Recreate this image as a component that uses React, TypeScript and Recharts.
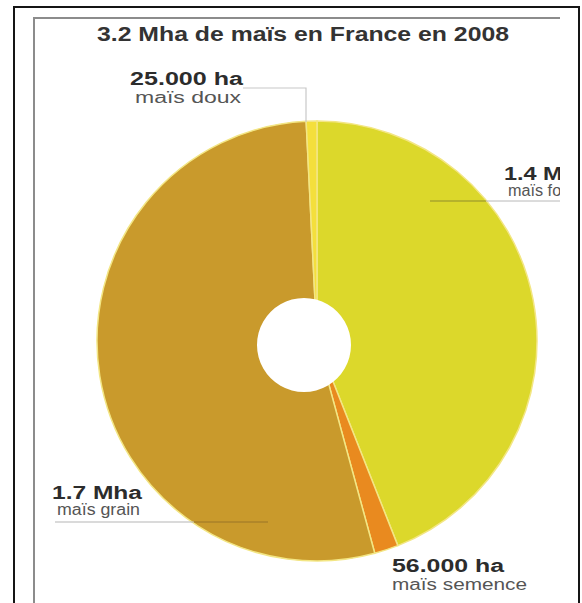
import React from 'react';
import { PieChart, Pie, Cell } from 'recharts';

const title = '3.2 Mha de maïs en France en 2008';
const categories = ['maïs fourrage', 'maïs semence', 'maïs grain', 'maïs doux'];
const valuesHa = [1400000, 56000, 1700000, 25000];
const valueLabels = ['1.4 Mha', '56.000 ha', '1.7 Mha', '25.000 ha'];
const colors = ['#dcd82b', '#e98a1f', '#c99a2c', '#f4df3c'];

const holeData = [{ name: 'hole', value: 1 }];

// layout of the annotations (page coordinates)
const labelLayout = [
  { x: 504, y: 180, x2: 508, y2: 196, len1: 86, len2: 100 },
  { x: 392, y: 572, x2: 392, y2: 590, len1: 112, len2: 135 },
  { x: 52, y: 499, x2: 57, y2: 515, len1: 90, len2: 83 },
  { x: 130, y: 85, x2: 135, y2: 103, len1: 113, len2: 106 },
];

const FRAME_X = 35;
const FRAME_Y = 19;

export default function App() {
  const data = categories.map((c, i) => ({ name: c, value: valuesHa[i] }));
  const px = (x: number) => x - FRAME_X;
  const py = (y: number) => y - FRAME_Y;
  return (
    <div
      style={{
        position: 'absolute',
        left: 0,
        top: 0,
        width: 582,
        height: 603,
        overflow: 'hidden',
        background: '#fff',
        fontFamily: '"Liberation Sans", Arial, sans-serif',
      }}
    >
      <div
        style={{
          position: 'absolute',
          left: 13,
          top: 6,
          width: 563,
          height: 640,
          border: '2px solid #151515',
        }}
      />
      <div
        style={{
          position: 'absolute',
          left: 33,
          top: 17,
          width: 525,
          height: 600,
          borderTop: '2px solid #8c8c8c',
          borderLeft: '2px solid #8c8c8c',
          overflow: 'hidden',
        }}
      >
        <div style={{ position: 'absolute', left: 0, top: 0 }}>
          <PieChart width={525} height={590}>
            <Pie
              data={data}
              dataKey="value"
              nameKey="name"
              cx={312 - FRAME_X}
              cy={336 - FRAME_Y}
              innerRadius={0}
              outerRadius={220}
              startAngle={90}
              endAngle={-270}
              isAnimationActive={false}
              label={false}
              labelLine={false}
            >
              {data.map((d, i) => (
                <Cell key={d.name} fill={colors[i]} stroke="#f3e684" strokeWidth={1.5} />
              ))}
            </Pie>
            <Pie
              data={holeData}
              dataKey="value"
              cx={299 - FRAME_X}
              cy={340 - FRAME_Y}
              innerRadius={0}
              outerRadius={47}
              isAnimationActive={false}
              label={false}
              labelLine={false}
              stroke="none"
            >
              <Cell fill="#ffffff" stroke="none" />
            </Pie>
          </PieChart>
        </div>
        <svg
          width={525}
          height={590}
          style={{ position: 'absolute', left: 0, top: 0, pointerEvents: 'none' }}
        >
          <text
            x={px(97)}
            y={py(41)}
            fontSize={20}
            fontWeight="bold"
            fill="#333"
            textLength={412}
            lengthAdjust="spacingAndGlyphs"
          >
            {title}
          </text>
          {/* leader lines */}
          <polyline
            points={`${px(243)},${py(88)} ${px(306)},${py(88)} ${px(306)},${py(122)}`}
            fill="none"
            stroke="#c8c8c8"
            strokeWidth={1.2}
          />
          <line x1={px(430)} y1={py(201)} x2={px(486)} y2={py(201)} stroke="#8f8c2c" strokeWidth={1} />
          <line x1={px(486)} y1={py(201)} x2={px(560)} y2={py(201)} stroke="#b8b8b8" strokeWidth={1} />
          <line x1={px(55)} y1={py(522)} x2={px(194)} y2={py(522)} stroke="#b5b5b5" strokeWidth={1} />
          <line x1={px(194)} y1={py(522)} x2={px(268)} y2={py(522)} stroke="#9a7526" strokeWidth={1} />
          {labelLayout.map((l, i) => (
            <g key={categories[i]}>
              <text
                x={px(l.x)}
                y={py(l.y)}
                fontSize={18}
                fontWeight="bold"
                fill="#2c2c2c"
                textLength={l.len1}
                lengthAdjust="spacingAndGlyphs"
              >
                {valueLabels[i]}
              </text>
              <text
                x={px(l.x2)}
                y={py(l.y2)}
                fontSize={16}
                fill="#555"
                textLength={l.len2}
                lengthAdjust="spacingAndGlyphs"
              >
                {categories[i]}
              </text>
            </g>
          ))}
        </svg>
      </div>
    </div>
  );
}
